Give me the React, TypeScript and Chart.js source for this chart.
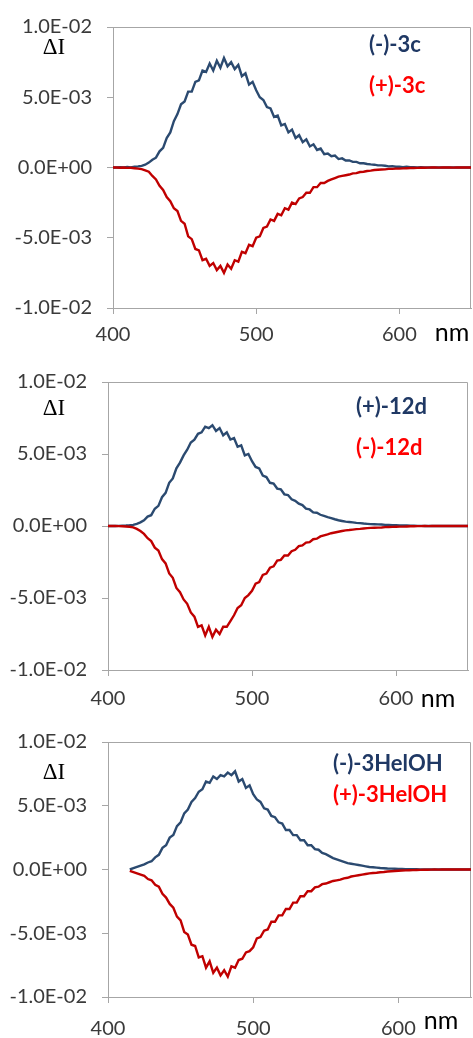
import React, { useEffect, useRef } from 'react';
import { Chart, registerables } from 'chart.js';

Chart.register(...registerables);

// Sampling grid (nm) shared by every series: 400 → 650, every 2.5 nm
const WAVELENGTHS = Array.from({ length: 101 }, (_, i) => 400 + i * 2.5);
const X_TICKS = [400, 500, 600];
const Y_TICKS = [-0.01, -0.005, 0, 0.005, 0.01];

// ΔI values in units of 1e-3, one row per 25 nm
const BLUE_3C = [
  0, 0, 0.02, 0, 0.04, 0.01, 0.05, 0.08, 0.12, 0.2,
  0.35, 0.55, 0.7, 1.15, 1.4, 2.1, 2.5, 3.3, 3.8, 4.5,
  4.7, 5.4, 5.4, 6.1, 6.2, 6.9, 6.8, 7.4, 6.9, 7.6,
  7.1, 7.8, 7.2, 7.5, 7.0, 7.3, 6.5, 6.7, 5.9, 6.1,
  5.5, 5.0, 4.8, 4.3, 4.2, 3.6, 3.7, 3.0, 3.1, 2.5,
  2.7, 2.1, 2.3, 1.8, 2.0, 1.5, 1.65, 1.25, 1.35, 0.95,
  1.0, 0.8, 0.85, 0.6, 0.65, 0.5, 0.5, 0.4, 0.4, 0.3,
  0.3, 0.25, 0.22, 0.2, 0.15, 0.15, 0.12, 0.08, 0.1, 0.05,
  0.06, 0.03, 0.05, 0.02, 0.03, 0.01, 0.02, 0, 0.01, 0,
  0, 0.01, 0, 0, 0.01, 0, 0, 0, 0.01, 0,
  0,
];
const RED_3C = [
  0, 0, -0.02, 0, -0.03, -0.02, -0.05, -0.08, -0.12, -0.2,
  -0.3, -0.6, -0.85, -1.3, -1.6, -2.1, -2.4, -2.9, -3.1, -3.8,
  -4.0, -4.9, -5.1, -5.8, -5.9, -6.6, -6.5, -7.0, -6.8, -7.3,
  -7.0, -7.5, -6.9, -7.2, -6.6, -6.7, -6.0, -6.1, -5.5, -5.6,
  -5.0, -4.9, -4.3, -4.2, -3.7, -3.8, -3.3, -3.4, -2.9, -3.0,
  -2.5, -2.6, -2.2, -2.1, -1.8, -1.8, -1.4, -1.4, -1.1, -1.1,
  -0.95, -0.85, -0.75, -0.65, -0.6, -0.55, -0.5, -0.42, -0.4, -0.32,
  -0.3, -0.25, -0.22, -0.18, -0.16, -0.14, -0.13, -0.1, -0.1, -0.08,
  -0.08, -0.06, -0.05, -0.04, -0.04, -0.03, -0.02, -0.02, -0.01, 0,
  0, -0.01, 0, 0, 0, -0.01, 0, 0, 0, 0,
  0,
];
const BLUE_12D = [
  0, 0, 0, 0.01, 0.02, 0.03, 0.05, 0.08, 0.15, 0.25,
  0.4, 0.65, 0.75, 1.2, 1.4, 2.0, 2.3, 3.0, 3.3, 4.0,
  4.4, 4.9, 5.3, 5.8, 6.0, 6.4, 6.5, 6.9, 6.8, 7.0,
  6.6, 6.8, 6.3, 6.5, 6.0, 6.1, 5.5, 5.6, 4.9, 5.0,
  4.5, 4.1, 4.0, 3.5, 3.4, 3.0, 2.95, 2.6, 2.55, 2.2,
  2.15, 1.85, 1.75, 1.55, 1.45, 1.2, 1.15, 0.95, 0.92, 0.78,
  0.7, 0.62, 0.55, 0.47, 0.4, 0.35, 0.3, 0.28, 0.25, 0.22,
  0.2, 0.17, 0.15, 0.13, 0.12, 0.11, 0.1, 0.08, 0.07, 0.06,
  0.05, 0.04, 0.04, 0.03, 0.02, 0.02, 0.01, 0.01, 0, 0.01,
  0, 0, 0.01, 0, 0, 0, 0.01, 0, 0, 0,
  0,
];
const RED_12D = [
  0, 0, 0, -0.01, -0.02, -0.03, -0.05, -0.1, -0.2, -0.35,
  -0.55, -0.85, -1.05, -1.5, -1.7, -2.3, -2.6, -3.3, -3.6, -4.3,
  -4.6, -5.1, -5.4, -6.0, -6.3, -7.0, -6.9, -7.6, -7.0, -7.7,
  -7.2, -7.5, -7.0, -7.0, -6.6, -6.2, -5.7, -5.5, -5.0, -4.8,
  -4.5, -4.0, -3.9, -3.4, -3.3, -2.9, -2.8, -2.4, -2.35, -2.05,
  -2.05, -1.75, -1.65, -1.4, -1.35, -1.15, -1.12, -0.92, -0.88, -0.72,
  -0.65, -0.58, -0.5, -0.45, -0.4, -0.35, -0.3, -0.28, -0.25, -0.22,
  -0.2, -0.17, -0.15, -0.13, -0.12, -0.11, -0.1, -0.08, -0.07, -0.06,
  -0.05, -0.04, -0.04, -0.03, -0.02, -0.02, -0.01, -0.01, 0, -0.01,
  0, 0, 0, 0, 0, 0, 0, 0, 0, 0,
  0,
];
const BLUE_HELOH = [
  null, null, null, null, null, null, 0, 0.1, 0.2, 0.3,
  0.4, 0.55, 0.65, 0.95, 1.15, 1.7, 1.9, 2.5, 2.7, 3.4,
  3.7, 4.4, 4.7, 5.3, 5.6, 6.1, 6.3, 6.9, 6.8, 7.3,
  7.1, 7.4, 7.3, 7.6, 7.4, 7.7, 6.9, 7.1, 6.4, 6.6,
  5.9, 5.5, 5.3, 4.8, 4.7, 4.2, 4.1, 3.7, 3.6, 3.1,
  3.1, 2.7, 2.7, 2.3, 2.3, 1.9, 1.9, 1.6, 1.55, 1.3,
  1.2, 1.05, 0.9, 0.8, 0.7, 0.6, 0.5, 0.45, 0.4, 0.35,
  0.3, 0.25, 0.2, 0.18, 0.15, 0.12, 0.1, 0.08, 0.07, 0.06,
  0.05, 0.04, 0.03, 0.03, 0.02, 0.02, 0.01, 0.01, 0, 0.01,
  0, 0, 0.01, 0, 0, 0, 0, 0.01, 0, 0,
  0,
];
const RED_HELOH = [
  null, null, null, null, null, null, -0.1, -0.2, -0.3, -0.4,
  -0.5, -0.75, -0.85, -1.2, -1.35, -1.9, -2.2, -2.7, -3.0, -3.7,
  -4.0, -4.9, -5.1, -5.9, -6.0, -6.9, -6.8, -7.7, -7.2, -8.1,
  -7.7, -8.3, -7.9, -8.4, -7.6, -7.7, -7.1, -7.0, -6.5, -6.4,
  -6.1, -5.4, -5.3, -4.8, -4.7, -4.1, -4.1, -3.6, -3.6, -3.1,
  -3.1, -2.6, -2.6, -2.1, -2.1, -1.7, -1.7, -1.4, -1.35, -1.15,
  -1.1, -1.0, -0.9, -0.85, -0.8, -0.7, -0.65, -0.55, -0.5, -0.45,
  -0.4, -0.35, -0.3, -0.27, -0.25, -0.22, -0.2, -0.16, -0.14, -0.12,
  -0.1, -0.08, -0.07, -0.06, -0.05, -0.04, -0.03, -0.02, -0.02, -0.01,
  0, -0.01, 0, 0, 0, 0, 0, 0, 0, 0,
  0,
];

const BLUE_LINE = '#2b4a70';
const RED_LINE = '#c00000';
const BLUE_TEXT = '#1f3864';
const RED_TEXT = '#ff0000';
const AXIS = '#a6a6a6';
const TICK_TEXT = '#3a3a3a';
const SANS = 'Lato';

const PANELS = [
  {
    top: 0, height: 350, padTop: 22, padRight: 2, yWidth: 113, xHeight: 42, xPad: 9,
    blue: BLUE_3C, red: RED_3C, blueLabel: '(-)-3c', redLabel: '(+)-3c',
    legendX: 369, legendY: [45, 86], deltaY: 48, nmX: 452, nmY: 333,
  },
  {
    top: 350, height: 365, padTop: 32, padRight: 5, yWidth: 108, xHeight: 45, xPad: 11,
    blue: BLUE_12D, red: RED_12D, blueLabel: '(+)-12d', redLabel: '(-)-12d',
    legendX: 356, legendY: [407, 448], deltaY: 409, nmX: 438, nmY: 699,
  },
  {
    top: 715, height: 323, padTop: 22, padRight: 2, yWidth: 108, xHeight: 41, xPad: 14,
    blue: BLUE_HELOH, red: RED_HELOH, blueLabel: '(-)-3HelOH', redLabel: '(+)-3HelOH',
    legendX: 333, legendY: [764, 795], deltaY: 773, nmX: 441, nmY: 1021,
  },
];

function sci(v: number): string {
  if (Math.abs(v) < 1e-12) return '0.0E+00';
  const e = Math.floor(Math.log10(Math.abs(v)) + 1e-9);
  const m = v / Math.pow(10, e);
  return m.toFixed(1) + 'E' + (e < 0 ? '-' : '+') + String(Math.abs(e)).padStart(2, '0');
}

function toPoints(values: (number | null)[]) {
  const pts: { x: number; y: number }[] = [];
  values.forEach((v, i) => {
    if (v !== null && v !== undefined) pts.push({ x: WAVELENGTHS[i], y: v * 1e-3 });
  });
  return pts;
}

const annotate = {
  id: 'annotate',
  beforeDatasetsDraw(chart: any) {
    const { ctx, chartArea: ca } = chart;
    ctx.save();
    ctx.strokeStyle = AXIS;
    ctx.lineWidth = 1;
    ctx.beginPath();
    const l = Math.round(ca.left) + 0.5;
    const r = Math.round(ca.right) - 0.5;
    const t = Math.round(ca.top) + 0.5;
    ctx.moveTo(l, t);
    ctx.lineTo(r, t);
    ctx.lineTo(r, Math.round(ca.bottom));
    ctx.stroke();
    ctx.restore();
  },
  afterDraw(chart: any, _args: any, opts: any) {
    const { ctx } = chart;
    ctx.save();
    (opts.texts || []).forEach((t: any) => {
      ctx.font = t.font;
      ctx.fillStyle = t.color;
      ctx.textAlign = t.align;
      ctx.textBaseline = 'middle';
      ctx.fillText(t.text, t.x, t.y);
    });
    ctx.restore();
  },
};

function Panel({ p }: { p: (typeof PANELS)[number] }) {
  const ref = useRef<HTMLCanvasElement | null>(null);
  useEffect(() => {
    if (!ref.current) return;
    const off = p.top;
    const chart = new Chart(ref.current, {
      type: 'line',
      data: {
        datasets: [
          {
            label: p.redLabel,
            data: toPoints(p.red),
            borderColor: RED_LINE,
            borderWidth: 2.4,
            pointRadius: 0,
            tension: 0,
            order: 0,
          },
          {
            label: p.blueLabel,
            data: toPoints(p.blue),
            borderColor: BLUE_LINE,
            borderWidth: 2.4,
            pointRadius: 0,
            tension: 0,
            order: 1,
          },
        ],
      },
      options: {
        animation: false,
        responsive: false,
        events: [],
        layout: { padding: { top: p.padTop, right: p.padRight, left: 0, bottom: 0 } },
        plugins: {
          legend: { display: false },
          tooltip: { enabled: false },
          annotate: {
            texts: [
              { text: 'ΔI', x: 54, y: p.deltaY - off, font: '23px "Liberation Serif"', color: '#000', align: 'center' },
              { text: 'nm', x: p.nmX, y: p.nmY - off, font: `25px ${SANS}`, color: '#000', align: 'center' },
              { text: p.blueLabel, x: p.legendX, y: p.legendY[0] - off, font: `bold 22px ${SANS}`, color: BLUE_TEXT, align: 'left' },
              { text: p.redLabel, x: p.legendX, y: p.legendY[1] - off, font: `bold 22px ${SANS}`, color: RED_TEXT, align: 'left' },
            ],
          },
        } as any,
        scales: {
          x: {
            type: 'linear',
            min: 400,
            max: 650,
            afterBuildTicks: (s: any) => {
              s.ticks = X_TICKS.map((v) => ({ value: v }));
            },
            afterFit: (s: any) => {
              s.height = p.xHeight;
            },
            ticks: {
              autoSkip: false,
              maxRotation: 0,
              padding: p.xPad,
              color: TICK_TEXT,
              font: { family: SANS, size: 20 },
              callback: (v: any) => String(v),
            },
            grid: { drawOnChartArea: false, drawTicks: true, tickLength: 6, color: AXIS },
            border: { color: AXIS, width: 1 },
          },
          y: {
            type: 'linear',
            min: -0.01,
            max: 0.01,
            afterBuildTicks: (s: any) => {
              s.ticks = Y_TICKS.map((v) => ({ value: v }));
            },
            afterFit: (s: any) => {
              s.width = p.yWidth;
            },
            ticks: {
              padding: 15,
              color: TICK_TEXT,
              font: { family: SANS, size: 20 },
              callback: (v: any) => sci(Number(v)),
            },
            grid: { drawOnChartArea: false, drawTicks: true, tickLength: 6, color: AXIS },
            border: { color: AXIS, width: 1 },
          },
        },
      },
      plugins: [annotate],
    } as any);
    return () => chart.destroy();
  }, [p]);
  return (
    <canvas
      ref={ref}
      width={473}
      height={p.height}
      style={{ position: 'absolute', left: 0, top: p.top, width: 473, height: p.height }}
    />
  );
}

export default function App() {
  return (
    <div style={{ position: 'absolute', left: 0, top: 0, width: 473, height: 1038, background: '#fff', overflow: 'hidden' }}>
      {PANELS.map((p, i) => (
        <Panel key={i} p={p} />
      ))}
    </div>
  );
}
